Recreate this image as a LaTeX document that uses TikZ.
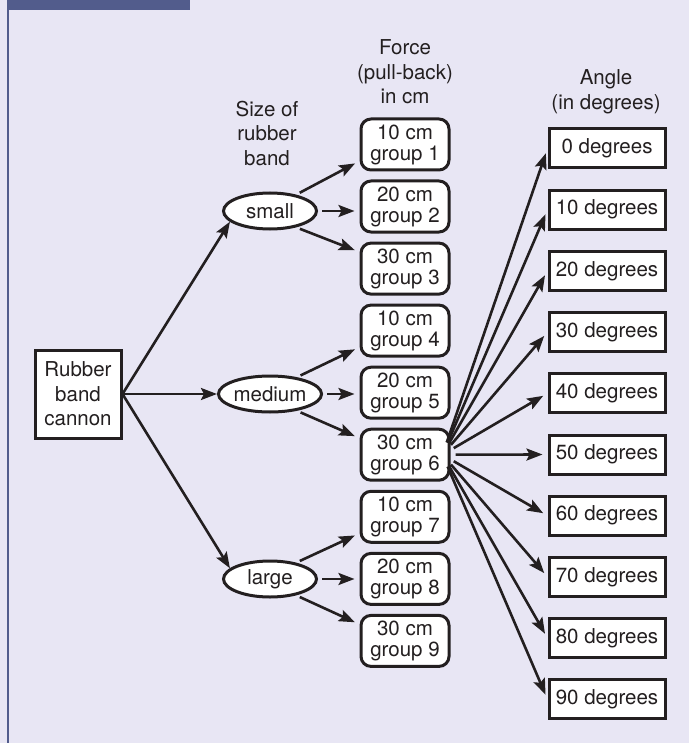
\documentclass[tikz,border=0pt]{standalone}
\usepackage{fontspec}
\setmainfont{TeX Gyre Heros}
\usepackage{tikz}
\usetikzlibrary{calc, arrows.meta, positioning, shapes.geometric}
\definecolor{bgLav}{RGB}{232,230,244}
\definecolor{barBlue}{RGB}{82,92,140}
\definecolor{inkGray}{RGB}{35,31,32}

\tikzset{
    txt/.style={font=\fontsize{20.5}{24.5}\selectfont, text=inkGray, align=center},
    cannonbox/.style={txt, draw=inkGray, line width=3pt, fill=white, minimum width=86, minimum height=88, inner sep=0},
    sizeell/.style={txt, ellipse, draw=inkGray, line width=3pt, fill=white, minimum width=93, minimum height=36, inner sep=0},
    forcebox/.style={txt, font=\fontsize{20.5}{21}\selectfont, draw=inkGray, line width=3pt, fill=white, rounded corners=10pt, minimum width=88, minimum height=51, inner sep=0},
    anglebox/.style={txt, draw=inkGray, line width=3pt, fill=white, minimum width=116, minimum height=39, inner sep=0},
    arr/.style={->, line width=2.6pt, draw=inkGray, shorten >=5pt}
}

\begin{document}
\begin{tikzpicture}[scale=1.0, x=1pt, y=-1pt, >={Stealth[length=16pt, width=12pt, inset=3pt]}]
    \useasboundingbox (0,0) rectangle (689,743);
    \fill[bgLav] (0,0) rectangle (689,743);
    \fill[barBlue] (7,0) rectangle (190,10);
    \fill[barBlue] (7,0) rectangle (9,743);

    \node[txt] (sizelbl) at (267,133) {Size of\\rubber\\band};
    \node[txt] (forcelbl) at (405,72) {Force\\(pull-back)\\in cm};
    \node[txt] (anglelbl) at (606,92) {Angle\\(in degrees)};

    \node[cannonbox] (cannon) at (78,394) {Rubber\\band\\cannon};

    \node[sizeell] (small) at (270,211) {small};
    \node[sizeell] (medium) at (270,394) {medium};
    \node[sizeell] (large) at (270,579) {large};

    \node[forcebox] (g1) at (405,144.5) {10 cm\\group 1};
    \node[forcebox] (g2) at (405,206.5) {20 cm\\group 2};
    \node[forcebox] (g3) at (405,268.6) {30 cm\\group 3};
    \node[forcebox] (g4) at (405,330.6) {10 cm\\group 4};
    \node[forcebox] (g5) at (405,392.7) {20 cm\\group 5};
    \node[forcebox] (g6) at (405,454.7) {30 cm\\group 6};
    \node[forcebox] (g7) at (405,516.8) {10 cm\\group 7};
    \node[forcebox] (g8) at (405,578.9) {20 cm\\group 8};
    \node[forcebox] (g9) at (405,640.9) {30 cm\\group 9};

    \node[anglebox] (a0) at (607,148.5) {0 degrees};
    \node[anglebox] (a10) at (607,209.7) {10 degrees};
    \node[anglebox] (a20) at (607,270.9) {20 degrees};
    \node[anglebox] (a30) at (607,332.1) {30 degrees};
    \node[anglebox] (a40) at (607,393.3) {40 degrees};
    \node[anglebox] (a50) at (607,454.5) {50 degrees};
    \node[anglebox] (a60) at (607,515.7) {60 degrees};
    \node[anglebox] (a70) at (607,576.9) {70 degrees};
    \node[anglebox] (a80) at (607,638.1) {80 degrees};
    \node[anglebox] (a90) at (607,699.3) {90 degrees};

    % cannon to sizes
    \draw[arr, shorten >=0pt] (cannon.east) -- (small.195);
    \draw[arr, shorten >=0pt] (cannon.east) -- (medium.west);
    \draw[arr, shorten >=0pt] (cannon.east) -- (large.165);

    % sizes to forces
    \draw[arr, shorten <=4pt] (small.32) -- (g1.200);
    \draw[arr, shorten <=4pt] (small.east) -- (small.east -| g2.west);
    \draw[arr, shorten <=4pt] (small.-32) -- (g3.160);
    \draw[arr, shorten <=4pt] (medium.32) -- (g4.200);
    \draw[arr, shorten <=4pt] (medium.east) -- (medium.east -| g5.west);
    \draw[arr, shorten <=4pt] (medium.-32) -- (g6.160);
    \draw[arr, shorten <=4pt] (large.32) -- (g7.200);
    \draw[arr, shorten <=4pt] (large.east) -- (large.east -| g8.west);
    \draw[arr, shorten <=4pt] (large.-32) -- (g9.160);

    % group 6 to angles
    \coordinate (hub) at ($(g6.east)+(-8,0)$);
    \draw[arr, shorten <=13pt] (hub) -- (a0.west);
    \draw[arr, shorten <=13pt] (hub) -- (a10.west);
    \draw[arr, shorten <=13pt] (hub) -- (a20.west);
    \draw[arr, shorten <=13pt] (hub) -- (a30.west);
    \draw[arr, shorten <=13pt] (hub) -- (a40.west);
    \draw[arr, shorten <=13pt] (hub) -- (a50.west);
    \draw[arr, shorten <=13pt] (hub) -- (a60.west);
    \draw[arr, shorten <=13pt] (hub) -- (a70.west);
    \draw[arr, shorten <=13pt] (hub) -- (a80.west);
    \draw[arr, shorten <=13pt] (hub) -- (a90.west);
\end{tikzpicture}
\end{document}
